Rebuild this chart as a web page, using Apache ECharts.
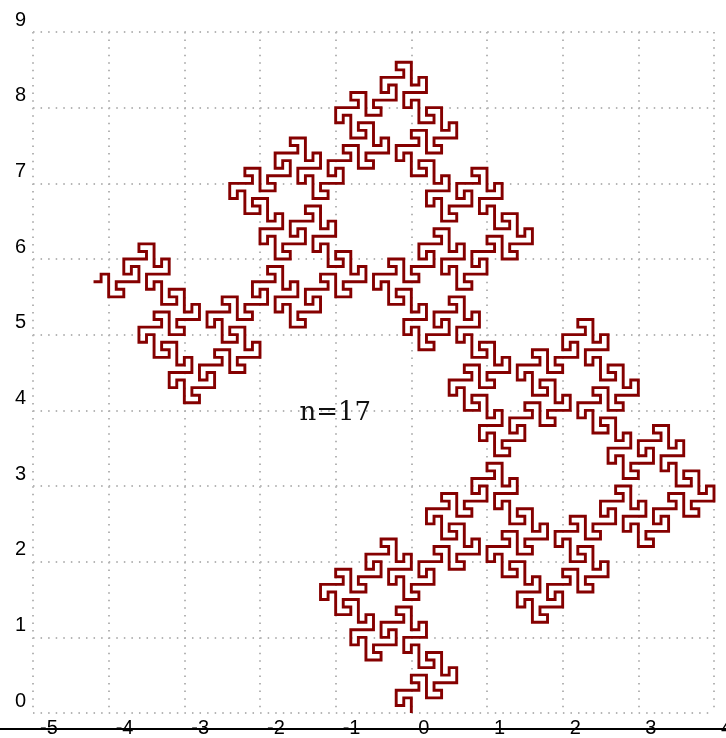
<!DOCTYPE html>
<html><head><meta charset="utf-8">
<style>html,body{margin:0;padding:0;background:#fff}#c{width:726px;height:738px}</style>
<script src="https://cdn.jsdelivr.net/npm/echarts@6/dist/echarts.min.js"></script>
</head><body><div id="c"></div>
<script>
const xTicks = [-5,-4,-3,-2,-1,0,1,2,3,4];
const yTicks = [0,1,2,3,4,5,6,7,8,9];
const caption = "n=17";
const stepSize = 0.1;
// Turns: 0 straight, + left, - right (all steps are stepSize long).
const motifS = "0++--0";
const motifQ = "0++--0-00++--0-00+0++--00+0++--0";
const motifP = motifQ+"0+"+motifQ+"0+"+motifS+"-0"+motifQ+"-0"+motifQ;
const motifEnd = motifQ+"0+"+motifQ+"0+"+motifS+"-0"+"0++--0-00++-";
const linkA = "-0", linkB = "0+";
// Order of the repeating stretches along the curve, start to end.
const sectionOrder = "PaPaQbPbP"+"b"+"PaPaQbPbP"+"b"+"P"+"a"+"P"+"a"+"E";
const pieces = {P:motifP,Q:motifQ,E:motifEnd,a:linkA,b:linkB};
const turns = sectionOrder.split("").map(k=>pieces[k]).join("");
const headings = [[0,1],[-1,0],[0,-1],[1,0]];
let hd=0,px=0,py=0; const pts=[[0,0]];
function adv(){px+=headings[hd][0];py+=headings[hd][1];pts.push([+(px*stepSize).toFixed(1),+(py*stepSize).toFixed(1)]);}
adv();
for(const t of turns){ if(t==='+')hd=(hd+1)%4; else if(t==='-')hd=(hd+3)%4; adv(); }
const chart=echarts.init(document.getElementById('c'),null,{renderer:'canvas'});
const grid="#b5b5b5";
chart.setOption({
 animation:false,
 grid:{left:33,right:12,top:32,bottom:25,outerBoundsMode:'none'},
 xAxis:{type:'value',min:xTicks[0],max:xTicks[xTicks.length-1],interval:1,offset:15,
  axisLine:{show:false},axisTick:{show:false},
  axisLabel:{color:'#000',fontFamily:'Liberation Sans',fontSize:20,align:'left',verticalAlign:'middle',margin:0,padding:[0,0,0,7],hideOverlap:false},
  splitLine:{show:true,lineStyle:{color:grid,width:2,type:[1.5,6.07]}}},
 yAxis:{type:'value',min:yTicks[0],max:yTicks[yTicks.length-1],interval:1,
  axisLine:{show:false},axisTick:{show:false},
  axisLabel:{color:'#000',fontFamily:'Liberation Sans',fontSize:20,align:'right',verticalAlign:'bottom',margin:7,padding:[0,0,2,0]},
  splitLine:{show:true,lineStyle:{color:grid,width:2,type:[1.5,6.07]}}},
 graphic:[
  {type:'line',shape:{x1:0,y1:729,x2:726,y2:729},style:{stroke:'#000',lineWidth:2},z:50},
  {type:'text',x:299.5,y:413,style:{text:caption,fontFamily:'DejaVu Serif',fontSize:26,fill:'#111',verticalAlign:'middle',align:'left'},z:60}
 ],
 series:[{type:'line',data:pts,showSymbol:false,symbol:'none',clip:false,sampling:null,
   lineStyle:{color:'#850000',width:2.9,join:'miter',cap:'butt'},z:10}]
});
</script></body></html>
